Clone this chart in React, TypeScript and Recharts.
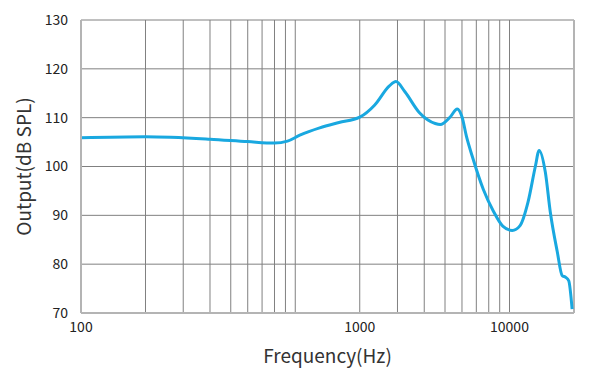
import { LineChart, Line, XAxis, YAxis, CartesianGrid, ReferenceLine, Label } from "recharts";

// frequency response (Hz / dB SPL)
const freqs = [
  100, 200, 400, 600, 800, 920, 1050, 1300, 1600, 2000, 2350, 2750, 2950, 3250, 3800, 4500, 4750,
  5300, 5700, 6000, 6300, 6700, 7550, 8400, 9300, 10300, 11200, 12200, 13200, 13750, 14700, 15500,
  16700, 17600, 18300, 18900, 19600,
];
const spl = [
  105.9, 106.1, 105.6, 105.1, 104.8, 105.2, 106.4, 107.9, 109.0, 110.1, 112.6, 116.5, 117.4, 115.3,
  111.0, 108.8, 108.6, 110.2, 111.8, 110.2, 106.1, 102.1, 95.3, 90.9, 87.8, 86.9, 87.9, 92.7, 100.0,
  103.3, 98.8, 90.7, 82.6, 77.7, 77.3, 76.6, 70.8,
];

const gridFreqs = [
  100, 200, 300, 400, 500, 600, 700, 800, 900, 1000, 2000, 3000, 4000, 5000, 6000, 7000, 8000,
  9000, 10000, 20000,
];
// tick labels exactly as printed on the reference
const xLabels: Record<number, string> = { 100: "100", 2000: "1000", 10000: "10000" };
const yTicks = [70, 80, 90, 100, 110, 120, 130];

const data = freqs.map((f, i) => ({ f, spl: spl[i] }));

const font = "'Noto Sans CJK SC', 'Noto Sans', sans-serif";
const tickStyle = { fontSize: 14, fill: "#222", fontFamily: font };
const titleStyle = { fontSize: 19, fill: "#333", fontFamily: font };

export default function App() {
  return (
    <div style={{ width: 599, height: 390 }}>
      <style>{"body{margin:0}"}</style>
      <LineChart width={599} height={390} data={data} margin={{ top: 20, right: 25, left: 0, bottom: 0 }}>
        <CartesianGrid stroke="#808080" strokeWidth={1} />
        <XAxis
          dataKey="f"
          type="number"
          scale="log"
          domain={[100, 20000]}
          ticks={gridFreqs}
          interval={0}
          allowDataOverflow
          tickFormatter={(v: number) => xLabels[v] ?? ""}
          tick={tickStyle}
          tickLine={false}
          tickMargin={3}
          axisLine={{ stroke: "#b4b4b4", strokeWidth: 2 }}
          height={77}
        >
          <Label value="Frequency(Hz)" position="insideBottom" offset={27} style={titleStyle} />
        </XAxis>
        <YAxis
          domain={[70, 130]}
          ticks={yTicks}
          interval={0}
          width={81}
          tick={tickStyle}
          tickLine={false}
          tickMargin={7}
          axisLine={{ stroke: "#b4b4b4", strokeWidth: 2 }}
        >
          <Label
            value="Output(dB SPL)"
            angle={-90}
            position="insideLeft"
            offset={24}
            style={{ ...titleStyle, textAnchor: "middle" }}
          />
        </YAxis>
        <ReferenceLine x={20000} stroke="#b4b4b4" strokeWidth={2} />
        <Line type="monotone" dataKey="spl" stroke="#19a8e0" strokeWidth={3} dot={false} isAnimationActive={false} />
      </LineChart>
    </div>
  );
}
